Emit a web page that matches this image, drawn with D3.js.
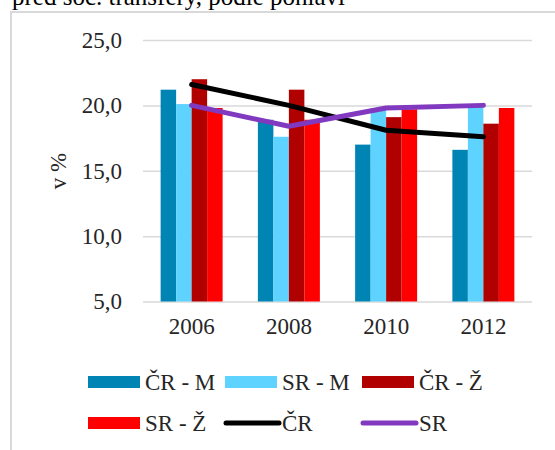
<!DOCTYPE html>
<html>
<head>
<meta charset="utf-8">
<script src="https://cdn.jsdelivr.net/npm/d3@7"></script>
<style>
  body { margin: 0; background: #fff; }
  svg { display: block; }
</style>
</head>
<body>
<div id="chart"></div>
<script>
const width = 555;
const height = 450;

const years = ["2006", "2008", "2010", "2012"];
const barSeries = ["ČR - M", "SR - M", "ČR - Ž", "SR - Ž"];
const crM = [21.2, 18.9, 17.0, 16.6];
const srM = [20.1, 17.6, 19.8, 19.9];
const crZ = [22.0, 21.2, 19.1, 18.6];
const srZ = [19.8, 18.9, 19.7, 19.8];
const lineSeries = ["ČR", "SR"];
const crTotal = [21.6, 20.0, 18.1, 17.6];
const srTotal = [20.0, 18.4, 19.8, 20.0];
const yTicks = [5, 10, 15, 20, 25];

const barColors = ["#0084b4", "#5fd3ff", "#b00000", "#ff0000"];
const lineColors = ["#000000", "#8139c0"];
const font = "'Liberation Serif', 'Times New Roman', serif";

const plot = { left: 143, right: 532, top: 40, bottom: 301.5 };

const svg = d3
  .select("#chart")
  .append("svg")
  .attr("width", width)
  .attr("height", height);

svg.append("rect").attr("width", width).attr("height", height).attr("fill", "#fff");

// title, cut off at the top
svg
  .append("text")
  .attr("x", 12)
  .attr("y", 5)
  .attr("font-family", font)
  .attr("font-size", 25)
  .attr("fill", "#000")
  .text("před soc. transfery, podle pohlaví");

// frame (left and top only)
svg
  .append("path")
  .attr("d", `M11,${height} V12 H${width}`)
  .attr("fill", "none")
  .attr("stroke", "#d9d9d9")
  .attr("stroke-width", 2);

const x = d3
  .scaleBand()
  .domain(years)
  .range([plot.left, plot.right])
  .paddingInner(0.3625)
  .paddingOuter(0.18125);

const xInner = d3.scaleBand().domain(barSeries).range([0, x.bandwidth()]);

const y = d3.scaleLinear().domain([5, 25]).range([plot.bottom, plot.top]);

// gridlines + y labels
const yAxis = svg
  .append("g")
  .attr("transform", `translate(${plot.left},0)`)
  .call(
    d3
      .axisLeft(y)
      .tickValues(yTicks)
      .tickSize(-(plot.right - plot.left))
      .tickPadding(21)
      .tickFormat((d) => d3.format(".1f")(d).replace(".", ","))
  );
yAxis.select(".domain").remove();
yAxis.selectAll("line").attr("stroke", "#d9d9d9").attr("stroke-width", 1.5);
yAxis
  .selectAll("text")
  .attr("font-family", font)
  .attr("font-size", 23)
  .attr("fill", "#262626");

svg
  .append("text")
  .attr("transform", "translate(66,171) rotate(-90)")
  .attr("text-anchor", "middle")
  .attr("font-family", font)
  .attr("font-size", 23)
  .attr("fill", "#262626")
  .text("v %");

// bars
const barData = [crM, srM, crZ, srZ];
barSeries.forEach((name, i) => {
  svg
    .append("g")
    .selectAll("rect")
    .data(barData[i])
    .join("rect")
    .attr("x", (d, j) => x(years[j]) + xInner(name))
    .attr("y", (d) => y(d))
    .attr("width", xInner.bandwidth())
    .attr("height", (d) => y(5) - y(d))
    .attr("fill", barColors[i]);
});

// lines
const lineData = [crTotal, srTotal];
const line = d3
  .line()
  .x((d, j) => x(years[j]) + x.bandwidth() / 2)
  .y((d) => y(d));

lineSeries.forEach((name, i) => {
  svg
    .append("path")
    .datum(lineData[i])
    .attr("d", line)
    .attr("fill", "none")
    .attr("stroke", lineColors[i])
    .attr("stroke-width", 5)
    .attr("stroke-linecap", "round")
    .attr("stroke-linejoin", "round");
});

// x labels
const xAxis = svg
  .append("g")
  .attr("transform", `translate(0,${plot.bottom})`)
  .call(d3.axisBottom(x).tickSize(0).tickPadding(16));
xAxis.select(".domain").remove();
xAxis
  .selectAll("text")
  .attr("font-family", font)
  .attr("font-size", 23)
  .attr("fill", "#262626");

// legend
const legendItems = [
  { name: barSeries[0], color: barColors[0], type: "bar" },
  { name: barSeries[1], color: barColors[1], type: "bar" },
  { name: barSeries[2], color: barColors[2], type: "bar" },
  { name: barSeries[3], color: barColors[3], type: "bar" },
  { name: lineSeries[0], color: lineColors[0], type: "line" },
  { name: lineSeries[1], color: lineColors[1], type: "line" },
];
const legendCols = [88, 225, 362];
const legendRows = [382, 423];

legendItems.forEach((item, i) => {
  const lx = legendCols[i % 3];
  const ly = legendRows[Math.floor(i / 3)];
  const g = svg.append("g");
  if (item.type == "bar") {
    g.append("rect")
      .attr("x", lx)
      .attr("y", ly - 6)
      .attr("width", 52)
      .attr("height", 12)
      .attr("fill", item.color);
  } else {
    g.append("line")
      .attr("x1", lx + 1)
      .attr("x2", lx + 54)
      .attr("y1", ly)
      .attr("y2", ly)
      .attr("stroke", item.color)
      .attr("stroke-width", 5)
      .attr("stroke-linecap", "round");
  }
  g.append("text")
    .attr("x", lx + 57)
    .attr("y", ly)
    .attr("dy", "0.35em")
    .attr("font-family", font)
    .attr("font-size", 23)
    .attr("fill", "#262626")
    .text(item.name);
});
</script>
</body>
</html>
